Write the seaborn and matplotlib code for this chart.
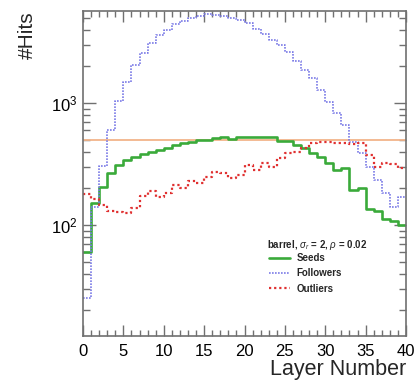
import numpy as np
import pandas as pd
import matplotlib
matplotlib.use("Agg")
import matplotlib.pyplot as plt
from matplotlib.lines import Line2D
from matplotlib.ticker import LogLocator, MultipleLocator, NullFormatter
import seaborn as sns

# ---- data (per layer bin 0..39) ----
layers = list(range(40))
seeds = [60, 151, 206, 265, 308, 341, 365, 382, 399, 412,
         426, 453, 468, 482, 498, 498, 514, 530, 504, 525,
         530, 530, 530, 530, 491, 491, 453, 426, 392, 363,
         321, 282, 292, 194, 200, 135, 131, 113, 108, 100]
followers = [25, 141, 305, 601, 1045, 1496, 2046, 2580, 3118, 3655,
             4018, 4443, 4730, 5040, 5235, 5370, 5260, 5150, 5040, 4786,
             4550, 4090, 3680, 3283, 2985, 2632, 2222, 1863, 1593, 1278,
             1026, 824, 661, 482, 387, 301, 234, 182, 140, 171]
outliers = [179, 163, 146, 130, 128, 126, 138, 173, 190, 171,
            182, 213, 200, 230, 223, 247, 273, 269, 243, 257,
            308, 282, 321, 301, 352, 392, 398, 426, 468, 482,
            482, 473, 470, 461, 468, 375, 301, 321, 316, 292]
reference_level = 500
series_names = ["Seeds", "Followers", "Outliers"]
legend_title = r"barrel, $\sigma_r$ = 2, $\rho$ = 0.02"

sns.set_theme(style="ticks")
plt.rcParams["font.family"] = ["Liberation Sans", "DejaVu Sans"]
plt.rcParams["mathtext.fontset"] = "custom"
plt.rcParams["mathtext.rm"] = "Liberation Sans"
plt.rcParams["mathtext.it"] = "Liberation Sans:italic"
plt.rcParams["mathtext.bf"] = "Liberation Sans:bold"

fig = plt.figure(figsize=(4.17, 3.80), dpi=100)
ax = fig.add_axes([83/417, 1-336/380, (406-83)/417, (336-11)/380])

edges = np.arange(41)
def step_frame(vals, name):
    return pd.DataFrame({"x": edges, "y": list(vals) + [vals[-1]], "s": name})

styles = {
    "Seeds": dict(color="#3aaa3a", lw=1.9, ls="-"),
    "Followers": dict(color="#7b7be6", lw=1.2, ls=(0, (1, 0.8))),
    "Outliers": dict(color="#e03030", lw=1.6, ls=(0, (1, 1.3))),
}
for name, vals in zip(series_names, [seeds, followers, outliers]):
    st = styles[name]
    sns.lineplot(data=step_frame(vals, name), x="x", y="y", ax=ax,
                 drawstyle="steps-post", estimator=None, sort=False,
                 color=st["color"], linewidth=st["lw"], linestyle=st["ls"],
                 legend=False)

ax.axhline(reference_level, color="#f2b48a", lw=1.3, zorder=1)

ax.set_yscale("log")
ax.set_xlim(0, 40)
ax.set_ylim(12.3, 5700)

ax.xaxis.set_major_locator(MultipleLocator(5))
ax.xaxis.set_minor_locator(MultipleLocator(1))
ax.yaxis.set_major_locator(LogLocator(base=10))
ax.yaxis.set_minor_locator(LogLocator(base=10, subs=np.arange(2, 10)))
ax.yaxis.set_minor_formatter(NullFormatter())

gray = "#707070"
for sp in ax.spines.values():
    sp.set_color(gray)
    sp.set_linewidth(1.2)
    sp.set_visible(True)
ax.tick_params(which="both", direction="in", top=True, right=True,
               color=gray, labelsize=12, labelcolor="black")
ax.tick_params(which="major", axis="x", length=8, width=1.0, pad=6)
ax.tick_params(which="minor", axis="x", length=4, width=1.0)
ax.tick_params(which="major", axis="y", length=9, width=1.0, pad=4)
ax.tick_params(which="minor", axis="y", length=5, width=1.0)

ax.set_xlabel("Layer Number", fontsize=15.5, loc="right", labelpad=0)
ax.set_ylabel("#Hits", fontsize=15, loc="top", labelpad=10)

ax.text((267-83)/323, 1-(245-11)/325, legend_title, transform=ax.transAxes,
        fontsize=7, fontweight="bold", ha="left", va="center")
handles = [Line2D([], [], color=styles[n]["color"], lw=styles[n]["lw"],
                  ls=styles[n]["ls"]) for n in series_names]
leg = ax.legend(handles, series_names,
                loc="upper left", bbox_to_anchor=((269-83)/323, 1-(253-11)/325),
                frameon=False, prop={"size": 7, "weight": "bold"},
                handlelength=2.2, handletextpad=0.6, labelspacing=0.55,
                borderpad=0, borderaxespad=0)

fig.savefig("out.png", dpi=100)
